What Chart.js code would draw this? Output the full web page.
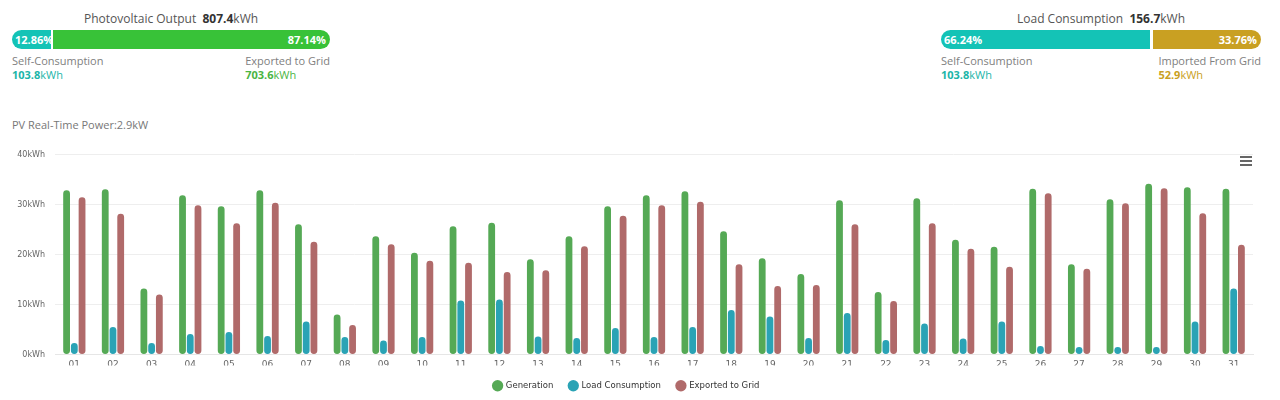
<!DOCTYPE html>
<html lang="en">
<head>
  <meta charset="UTF-8" />
  <title>PV Monthly Energy</title>
  <script src="https://cdn.jsdelivr.net/npm/chart.js"></script>
  <style>
    body {
      margin: 0;
      width: 1280px;
      height: 400px;
      background: #fff;
      font-family: "Open Sans", "Noto Sans", sans-serif;
      position: relative;
      overflow: hidden;
    }
    .block {
      position: absolute;
      top: 0;
    }
    .title {
      text-align: center;
      font-size: 12px;
      color: #555;
      margin-top: 10px;
      height: 20px;
    }
    .title b { color: #333; }
    .bar {
      display: flex;
      height: 19px;
      border-radius: 10px;
      overflow: hidden;
      font-size: 11px;
      font-weight: bold;
      color: #fff;
      line-height: 19px;
    }
    .bar div { height: 100%; }
    .seg1 { padding-left: 3px; box-sizing: border-box; border-right: 2px solid #fff; }
    .seg2 { text-align: right; padding-right: 4px; box-sizing: border-box; }
    .labels {
      display: flex;
      justify-content: space-between;
      font-size: 11px;
      color: #808080;
      margin-top: 5px;
      line-height: 14px;
    }
    .labels .r { text-align: left; }
    .num { font-weight: bold; }
    #pvpower {
      position: absolute;
      left: 12px;
      top: 117px;
      font-size: 11px;
      color: #777;
    }
    #wrap {
      position: absolute;
      left: 0;
      top: 140px;
      width: 1280px;
      height: 260px;
    }
    #menu {
      position: absolute;
      left: 1240px;
      top: 156px;
      width: 12px;
    }
    #menu div {
      height: 2px;
      background: #666;
      margin-bottom: 2px;
    }
  </style>
</head>
<body>
  <div class="block" style="left:12px;width:318px">
    <div class="title">Photovoltaic Output&nbsp; <b>807.4</b>kWh</div>
    <div class="bar">
      <div class="seg1" style="width:12.86%;background:#14c3b6">12.86%</div>
      <div class="seg2" style="flex:1;background:#38c238">87.14%</div>
    </div>
    <div class="labels">
      <div>Self-Consumption<br><span style="color:#1bb5a8"><span class="num">103.8</span>kWh</span></div>
      <div class="r">Exported to Grid<br><span style="color:#4bb543"><span class="num">703.6</span>kWh</span></div>
    </div>
  </div>

  <div class="block" style="left:941px;width:320px">
    <div class="title">Load Consumption&nbsp; <b>156.7</b>kWh</div>
    <div class="bar">
      <div class="seg1" style="width:66.24%;background:#14c3b6;border-right-width:3px">66.24%</div>
      <div class="seg2" style="flex:1;background:#c9a022">33.76%</div>
    </div>
    <div class="labels">
      <div>Self-Consumption<br><span style="color:#1bb5a8"><span class="num">103.8</span>kWh</span></div>
      <div class="r">Imported From Grid<br><span style="color:#c9a022"><span class="num">52.9</span>kWh</span></div>
    </div>
  </div>

  <div id="pvpower">PV Real-Time Power:2.9kW</div>

  <div id="wrap"><canvas id="grafica"></canvas></div>
  <div id="menu"><div></div><div></div><div></div></div>

  <script>
    // dias del mes
    const days = ["01","02","03","04","05","06","07","08","09","10","11","12","13","14","15","16",
                  "17","18","19","20","21","22","23","24","25","26","27","28","29","30","31"];

    const generation = [32.9, 33.1, 13.2, 31.9, 29.7, 32.9, 26.1, 8.0, 23.7, 20.4,
                        25.7, 26.4, 19.1, 23.7, 29.7, 31.9, 32.7, 24.7, 19.3, 16.1, 30.9,
                        12.5, 31.3, 23.0, 21.6, 33.2, 18.1, 31.1, 34.2, 33.5, 33.2];

    const loadConsumption = [2.3, 5.5, 2.3, 4.1, 4.5, 3.7, 6.6, 3.5, 2.8, 3.5,
                             10.8, 11.0, 3.6, 3.3, 5.3, 3.5, 5.5, 8.9, 7.6, 3.3, 8.3,
                             2.9, 6.2, 3.2, 6.6, 1.7, 1.5, 1.5, 1.5, 6.6, 13.2];

    const exported = [31.5, 28.2, 12.0, 29.9, 26.3, 30.4, 22.6, 5.9, 22.1, 18.8,
                      18.4, 16.5, 16.9, 21.7, 27.8, 29.9, 30.6, 18.1, 13.7, 13.9, 26.1,
                      10.7, 26.3, 21.2, 17.6, 32.3, 17.2, 30.3, 33.3, 28.3, 22.0];

    const yTicks = [0, 10, 20, 30, 40];

    function serie(label, data, color) {
      return {
        label: label,
        data: data,
        backgroundColor: color,
        borderRadius: 4,
        borderSkipped: false,
        categoryPercentage: 0.6,
        barPercentage: 0.88
      };
    }

    const ctx = document.getElementById("grafica").getContext("2d");
    new Chart(ctx, {
      type: 'bar',
      data: {
        labels: days,
        datasets: [
          serie("Generation", generation, "#55a955"),
          serie("Load Consumption", loadConsumption, "#2aa3b5"),
          serie("Exported to Grid", exported, "#b06a6a")
        ]
      },
      options: {
        responsive: true,
        maintainAspectRatio: false,
        animation: false,
        layout: { padding: { top: 12, right: 27, left: 0, bottom: 0 } },
        scales: {
          x: {
            afterFit: function(scale) { scale.height = 11; },
            grid: { display: false, drawTicks: false },
            border: { color: '#e6e6e6' },
            ticks: {
              color: '#666',
              padding: 5,
              font: { family: 'DejaVu Sans', size: 9 }
            }
          },
          y: {
            min: 0,
            max: 40,
            afterBuildTicks: function(scale) {
              scale.ticks = yTicks.map(v => ({ value: v }));
            },
            afterFit: function(scale) { scale.width = 55; },
            grid: { color: '#eeeeee', drawTicks: false },
            border: { display: false },
            ticks: {
              color: '#666',
              padding: 10,
              font: { family: 'DejaVu Sans', size: 8 },
              callback: function(value) { return value + 'kWh'; }
            }
          }
        },
        plugins: {
          legend: {
            position: 'bottom',
            labels: {
              usePointStyle: true,
              pointStyle: 'circle',
              boxWidth: 8,
              boxHeight: 8,
              padding: 16,
              color: '#333',
              font: { family: 'DejaVu Sans', size: 8.5 }
            }
          },
          tooltip: { enabled: false }
        }
      }
    });
  </script>
</body>
</html>
